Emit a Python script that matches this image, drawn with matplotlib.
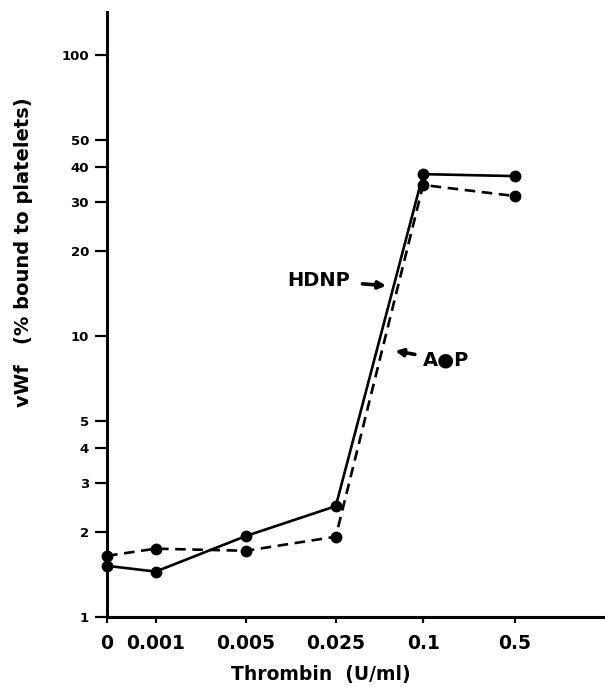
import numpy as np
import matplotlib.pyplot as plt

plt.rcParams['font.family'] = ['DejaVu Sans']
plt.rcParams['font.weight'] = 'bold'

# thrombin doses (categorical axis) and vWf binding (% bound to platelets)
doses = ['0', '0.001', '0.005', '0.025', '0.1', '0.5']
hdnp = [1.52, 1.45, 1.94, 2.48, 37.7, 37.1]
aop = [1.65, 1.75, 1.72, 1.93, 34.5, 31.5]
yticks = [1, 2, 3, 4, 5, 10, 20, 30, 40, 50, 100]

# "0" sits closer to the first dose than the other steps
xpos = np.array([-0.54, 0, 1, 2, 2.97, 3.99])

fig = plt.figure(figsize=(6.05, 6.87), dpi=100)
ax = fig.add_axes([0.177, 0.102, 0.82, 0.88])

ax.plot(xpos, hdnp, '-', color='black', lw=1.9, marker='o', ms=7.5, clip_on=False, zorder=3)
ax.plot(xpos, aop, '--', color='black', lw=1.9, dashes=(4, 2.5), marker='o', ms=7.5,
        clip_on=False, zorder=3)

ax.set_yscale('log')
ax.set_ylim(1, 142)
ax.set_xlim(-0.54, 4.97)
ax.set_yticks(yticks)
ax.set_yticklabels([str(v) for v in yticks], fontsize=9.5, fontweight='bold')
ax.minorticks_off()
ax.set_xticks(xpos)
ax.set_xticklabels(doses, fontsize=13.5, fontweight='bold')

ax.tick_params(axis='y', direction='out', length=9, width=1.6, pad=4)
ax.tick_params(axis='x', direction='out', length=4, width=1.6, pad=8)

for s in ['top', 'right']:
    ax.spines[s].set_visible(False)
for s in ['left', 'bottom']:
    ax.spines[s].set_linewidth(2.2)

ax.set_xlabel('Thrombin  (U/ml)', fontsize=13.5, fontweight='bold')
ax.xaxis.set_label_coords(0.43, -0.079)
ax.set_ylabel('vWf   (% bound to platelets)', fontsize=14, fontweight='bold')
ax.yaxis.set_label_coords(-0.149, 0.603)

arrow = dict(arrowstyle='-|>', color='black', lw=2.6, mutation_scale=11, shrinkB=0)
ax.annotate('HDNP', xy=(2.56, 15.1), xytext=(1.46, 15.8), fontsize=14, fontweight='bold',
            va='center', ha='left', arrowprops=dict(arrow, shrinkA=7))
ax.annotate('A●P', xy=(2.66, 8.85), xytext=(2.97, 8.22), fontsize=14, fontweight='bold',
            va='center', ha='left', arrowprops=dict(arrow, shrinkA=4))

fig.savefig('out.png', dpi=100)
